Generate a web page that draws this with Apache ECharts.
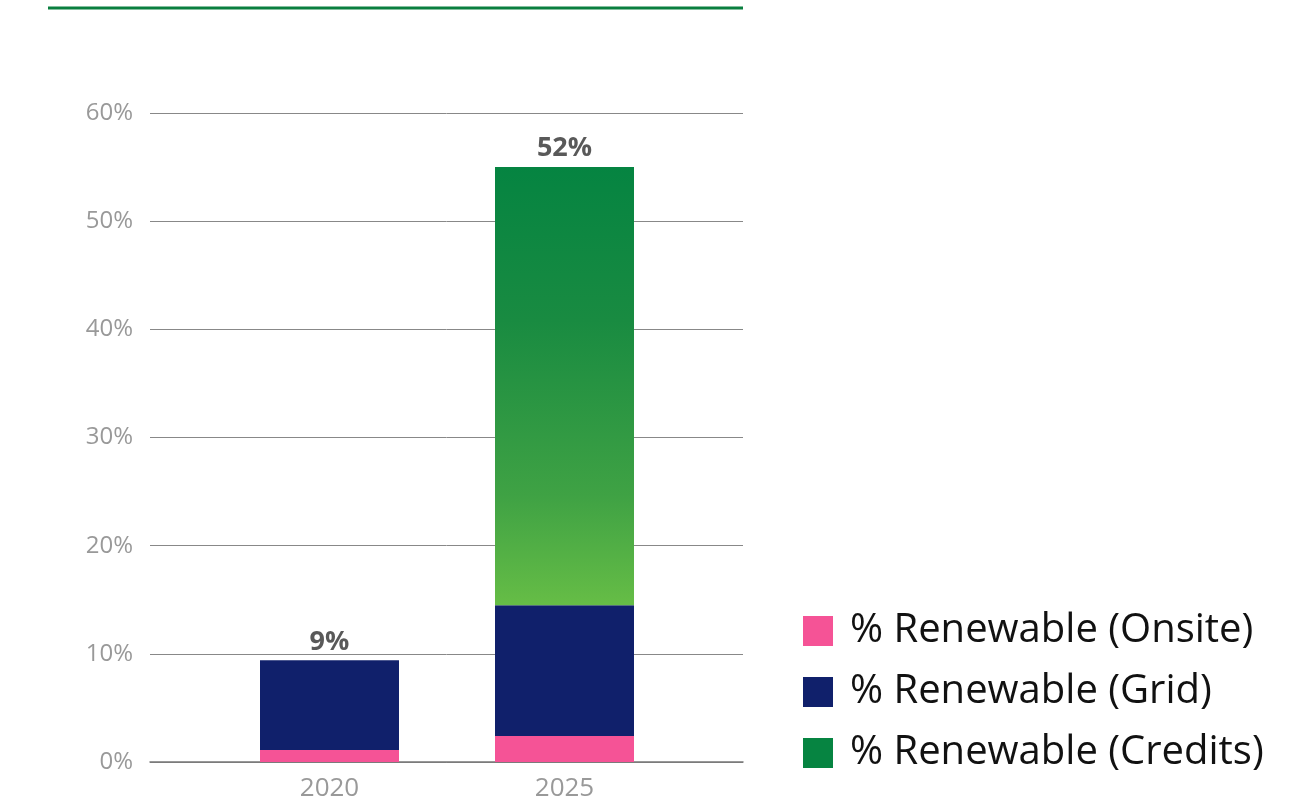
<!DOCTYPE html>
<html>
<head>
<meta charset="utf-8">
<script src="https://cdn.jsdelivr.net/npm/echarts@6/dist/echarts.min.js"></script>
<style>
html,body{margin:0;padding:0;background:#fff;}
#chart{width:1303px;height:799px;}
</style>
</head>
<body>
<div id="chart"></div>
<script>
const categories = ['2020', '2025'];
const onsite = [1.1, 2.4];
const grid = [8.3, 12.1];
const credits = [0, 40.5];
const totalLabels = ['9%', '52%'];
const yTicks = [0, 10, 20, 30, 40, 50, 60];
const seriesNames = ['% Renewable (Onsite)', '% Renewable (Grid)', '% Renewable (Credits)'];

const chart = echarts.init(document.getElementById('chart'));
const font = '"Open Sans", Lato, sans-serif';
const plotTop = 113, plotBottom = 799 - 762;

chart.setOption({
  animation: false,
  textStyle: { fontFamily: font },
  graphic: [{
    type: 'line', shape: { x1: 48, y1: 8, x2: 743, y2: 8 },
    style: { stroke: '#0a7f3f', lineWidth: 3 }
  }],
  grid: [
    { left: 150, right: 1303 - 743, top: plotTop, bottom: plotBottom, containLabel: false, outerBoundsMode: 'none' },
    { left: 212, right: 1303 - 682, top: plotTop, bottom: plotBottom, containLabel: false, outerBoundsMode: 'none' }
  ],
  xAxis: [
    { type: 'category', gridIndex: 0, data: categories, axisLine: { show: true, lineStyle: { color: '#777', width: 1.5 } },
      axisTick: { show: false }, axisLabel: { show: false } },
    { type: 'category', gridIndex: 1, data: categories, axisLine: { show: false }, axisTick: { show: false },
      axisLabel: { color: '#999', fontSize: 26, margin: 14, fontFamily: font } }
  ],
  yAxis: [
    { type: 'value', gridIndex: 0, min: yTicks[0], max: yTicks[yTicks.length - 1], interval: 10,
      axisLine: { show: false }, axisTick: { show: false },
      axisLabel: { color: '#999', fontSize: 24, margin: 17, formatter: v => v + '%', fontFamily: font },
      splitLine: { show: true, lineStyle: { color: '#888', width: 1 } } },
    { type: 'value', gridIndex: 1, min: yTicks[0], max: yTicks[yTicks.length - 1], interval: 10,
      axisLine: { show: false }, axisTick: { show: false }, axisLabel: { show: false }, splitLine: { show: false } }
  ],
  legend: {
    orient: 'vertical', left: 798, top: 606, itemWidth: 30, itemHeight: 30, itemGap: 21,
    icon: 'rect', selectedMode: false,
    textStyle: { color: '#111', fontSize: 40, padding: [0, 0, 0, 12], fontFamily: font },
    data: [
      { name: seriesNames[0], itemStyle: { color: '#f55396' } },
      { name: seriesNames[1], itemStyle: { color: '#10206b' } },
      { name: seriesNames[2], itemStyle: { color: '#068441' } }
    ]
  },
  series: [
    { name: seriesNames[0], type: 'bar', stack: 's', xAxisIndex: 1, yAxisIndex: 1, barWidth: 139,
      data: onsite, itemStyle: { color: '#f55396' } },
    { name: seriesNames[1], type: 'bar', stack: 's', xAxisIndex: 1, yAxisIndex: 1, barWidth: 139,
      data: grid, itemStyle: { color: '#10206b' } },
    { name: seriesNames[2], type: 'bar', stack: 's', xAxisIndex: 1, yAxisIndex: 1, barWidth: 139,
      data: credits, itemStyle: { color: new echarts.graphic.LinearGradient(0, 0, 0, 1, [
        { offset: 0, color: '#058441' }, { offset: 0.35, color: '#198b41' },
        { offset: 0.75, color: '#3fa244' }, { offset: 1, color: '#66bd46' }]) } },
    { name: 'total', type: 'bar', stack: 's', xAxisIndex: 1, yAxisIndex: 1, barWidth: 139,
      data: categories.map(() => 0), itemStyle: { color: 'transparent' },
      label: { show: true, position: 'top', distance: 5, color: '#595959', fontSize: 27, fontWeight: 'bold',
        fontFamily: font, formatter: p => totalLabels[p.dataIndex] } }
  ]
});
</script>
</body>
</html>
